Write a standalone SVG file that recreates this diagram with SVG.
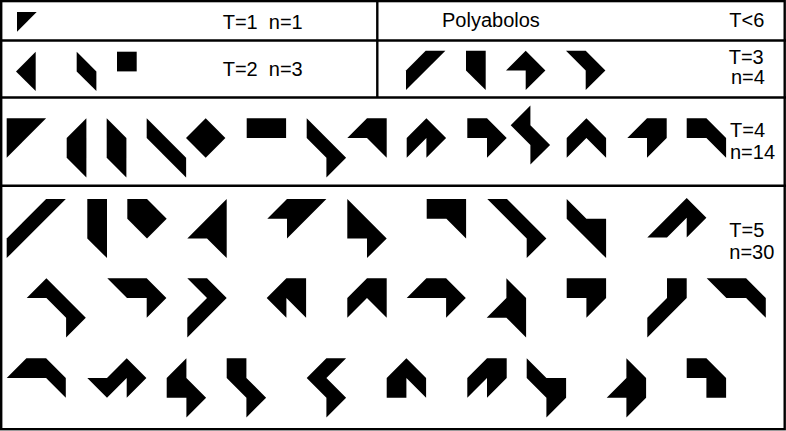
<svg xmlns="http://www.w3.org/2000/svg" width="786" height="431" viewBox="0 0 786 431">
<style>
.frame{fill:none;stroke:#000;stroke-width:2.4}
.p{fill:#000}
.t{font-family:"Liberation Sans",Arial,sans-serif;font-size:20px;fill:#000}
</style>
<rect width="786" height="431" fill="#fff"/>
<g id="frame">
<rect class="frame" x="1.2" y="1.1" width="783.5" height="428.1"/>
<line class="frame" x1="0" y1="40.5" x2="786" y2="40.5"/>
<line class="frame" x1="0" y1="97.5" x2="786" y2="97.5"/>
<line class="frame" x1="0" y1="185.7" x2="786" y2="185.7"/>
<line class="frame" x1="377.3" y1="0" x2="377.3" y2="97.5"/>
</g>
<g id="connectors"></g>
<g id="labels">
<text class="t" x="222.7" y="29.3" xml:space="preserve">T=1  n=1</text>
<text class="t" x="222.7" y="76" xml:space="preserve">T=2  n=3</text>
<text class="t" x="442" y="26.7">Polyabolos</text>
<text class="t" x="729.3" y="27">T&lt;6</text>
<text class="t" x="728.7" y="64.3">T=3</text>
<text class="t" x="731" y="84.3">n=4</text>
<text class="t" x="730" y="136.7">T=4</text>
<text class="t" x="730" y="159">n=14</text>
<text class="t" x="729.3" y="236.7">T=5</text>
<text class="t" x="729.3" y="259">n=30</text>
</g>
<g id="t1">
<polygon class="p" transform="translate(17 12) scale(19.7)" points="0,0 1,0 0,1"/>
</g>
<g id="t2">
<polygon class="p" transform="translate(16 51.7) scale(19.7)" points="1,0 1,2 0,1"/>
<polygon class="p" transform="translate(76.7 51.7) scale(19.7)" points="0,0 1,1 1,2 0,1"/>
<polygon class="p" transform="translate(117 51.7) scale(19.7)" points="0,0 1,0 1,1 0,1"/>
</g>
<g id="t3">
<polygon class="p" transform="translate(406 50.7) scale(19.7)" points="1,0 2,0 0,2 0,1"/>
<polygon class="p" transform="translate(466 50.7) scale(19.7)" points="0,0 1,0 1,2 0,1"/>
<polygon class="p" transform="translate(506 50.7) scale(19.7)" points="1,0 2,1 1,2 1,1 0,1"/>
<polygon class="p" transform="translate(566 50.7) scale(19.7)" points="0,0 1,0 2,1 1,2 1,1"/>
</g>
<g id="t4">
<polygon class="p" transform="translate(6.7 118.3) scale(19.7)" points="0,0 2,0 0,2"/>
<polygon class="p" transform="translate(66.7 118.3) scale(19.7)" points="1,0 1,3 0,2 0,1"/>
<polygon class="p" transform="translate(106.7 118.3) scale(19.7)" points="0,0 1,1 1,3 0,2"/>
<polygon class="p" transform="translate(146.7 118.3) scale(19.7)" points="0,0 2,2 2,3 0,1"/>
<polygon class="p" transform="translate(186 118.3) scale(19.7)" points="1,0 2,1 1,2 0,1"/>
<polygon class="p" transform="translate(246.7 118.3) scale(19.7)" points="0,0 2,0 2,1 0,1"/>
<polygon class="p" transform="translate(306.7 118.3) scale(19.7)" points="0,0 2,2 1,3 1,2 0,1"/>
<polygon class="p" transform="translate(347.3 118.3) scale(19.7)" points="1,0 2,0 2,2 1,1 0,1"/>
<polygon class="p" transform="translate(406.7 118.3) scale(19.7)" points="1,0 2,1 1,2 1,1 0,2 0,1"/>
<polygon class="p" transform="translate(467.3 118.3) scale(19.7)" points="0,0 1,0 2,1 1,2 1,1 0,1"/>
<polygon class="p" transform="translate(510.7 105.5) scale(19.7)" points="1,0 1,1 2,2 1,3 1,2 0,1"/>
<polygon class="p" transform="translate(566.7 118.3) scale(19.7)" points="1,0 2,1 2,2 1,1 0,2 0,1"/>
<polygon class="p" transform="translate(627.3 118.3) scale(19.7)" points="1,0 2,0 2,1 1,2 1,1 0,1"/>
<polygon class="p" transform="translate(686.7 118.3) scale(19.7)" points="0,0 1,0 2,1 2,2 1,1 0,1"/>
</g>
<g id="t5-row1">
<polygon class="p" transform="translate(6.7 199) scale(19.7)" points="2,0 3,0 0,3 0,2"/>
<polygon class="p" transform="translate(87.3 199) scale(19.7)" points="0,0 1,0 1,3 0,2"/>
<polygon class="p" transform="translate(127.3 199) scale(19.7)" points="0,0 1,0 2,1 1,2 0,1"/>
<polygon class="p" transform="translate(187.3 199) scale(19.7)" points="2,0 2,3 1,2 0,2"/>
<polygon class="p" transform="translate(267.3 199) scale(19.7)" points="1,0 3,0 1,2 1,1 0,1"/>
<polygon class="p" transform="translate(347.3 199) scale(19.7)" points="0,0 2,2 1,3 1,2 0,2"/>
<polygon class="p" transform="translate(426.7 199) scale(19.7)" points="0,0 2,0 2,2 1,1 0,1"/>
<polygon class="p" transform="translate(487.3 199) scale(19.7)" points="0,0 1,0 3,2 2,3 2,2"/>
<polygon class="p" transform="translate(566.7 199) scale(19.7)" points="0,0 1,1 2,1 2,3 0,1"/>
<polygon class="p" transform="translate(647.3 198) scale(19.7)" points="2,0 3,1 2,2 2,1 1,2 0,2"/>
</g>
<g id="t5-row2">
<polygon class="p" transform="translate(26.7 278.3) scale(19.7)" points="1,0 3,2 2,3 2,2 1,1 0,1"/>
<polygon class="p" transform="translate(107.3 278.3) scale(19.7)" points="0,0 2,0 3,1 2,2 2,1 1,1"/>
<polygon class="p" transform="translate(187.3 278.3) scale(19.7)" points="0,0 1,0 2,1 0,3 0,2 1,1"/>
<polygon class="p" transform="translate(266.7 278.3) scale(19.7)" points="1,0 2,0 2,2 1,1 1,2 0,1"/>
<polygon class="p" transform="translate(347.3 278.3) scale(19.7)" points="1,0 2,0 2,2 1,1 0,2 0,1"/>
<polygon class="p" transform="translate(406.7 278.3) scale(19.7)" points="1,0 2,0 3,1 2,2 2,1 0,1"/>
<polygon class="p" transform="translate(486.7 278.3) scale(19.7)" points="1,0 2,1 2,3 1,2 0,2 1,1"/>
<polygon class="p" transform="translate(566.7 278.3) scale(19.7)" points="0,0 2,0 2,1 1,2 1,1 0,1"/>
<polygon class="p" transform="translate(647.3 278.3) scale(19.7)" points="1,0 2,0 2,1 0,3 0,2 1,1"/>
<polygon class="p" transform="translate(706.7 278.3) scale(19.7)" points="0,0 2,0 3,1 3,2 2,1 1,1"/>
</g>
<g id="t5-row3">
<polygon class="p" transform="translate(6.7 358.3) scale(19.7)" points="1,0 2,0 3,1 3,2 2,1 0,1"/>
<polygon class="p" transform="translate(87.3 358.3) scale(19.7)" points="2,0 3,1 2,2 2,1 1,2 0,1 1,1"/>
<polygon class="p" transform="translate(166.7 358.3) scale(19.7)" points="1,0 1,1 2,2 1,3 1,2 0,2 0,1"/>
<polygon class="p" transform="translate(226.7 358.3) scale(19.7)" points="0,0 1,0 1,1 2,2 1,3 1,2 0,1"/>
<polygon class="p" transform="translate(306.7 358.3) scale(19.7)" points="1,0 2,0 1,1 2,2 1,3 1,2 0,1"/>
<polygon class="p" transform="translate(386.7 358.3) scale(19.7)" points="1,0 2,1 2,2 1,1 1,2 0,2 0,1"/>
<polygon class="p" transform="translate(467.3 358.3) scale(19.7)" points="1,0 2,0 2,1 1,2 1,1 0,2 0,1"/>
<polygon class="p" transform="translate(526.7 358.3) scale(19.7)" points="0,0 1,1 2,1 2,2 1,3 1,2 0,1"/>
<polygon class="p" transform="translate(606.7 358.3) scale(19.7)" points="1,0 2,1 2,2 1,3 1,2 0,2 1,1"/>
<polygon class="p" transform="translate(686.7 358.3) scale(19.7)" points="0,0 1,0 2,1 2,2 1,2 1,1 0,1"/>
</g>
</svg>
